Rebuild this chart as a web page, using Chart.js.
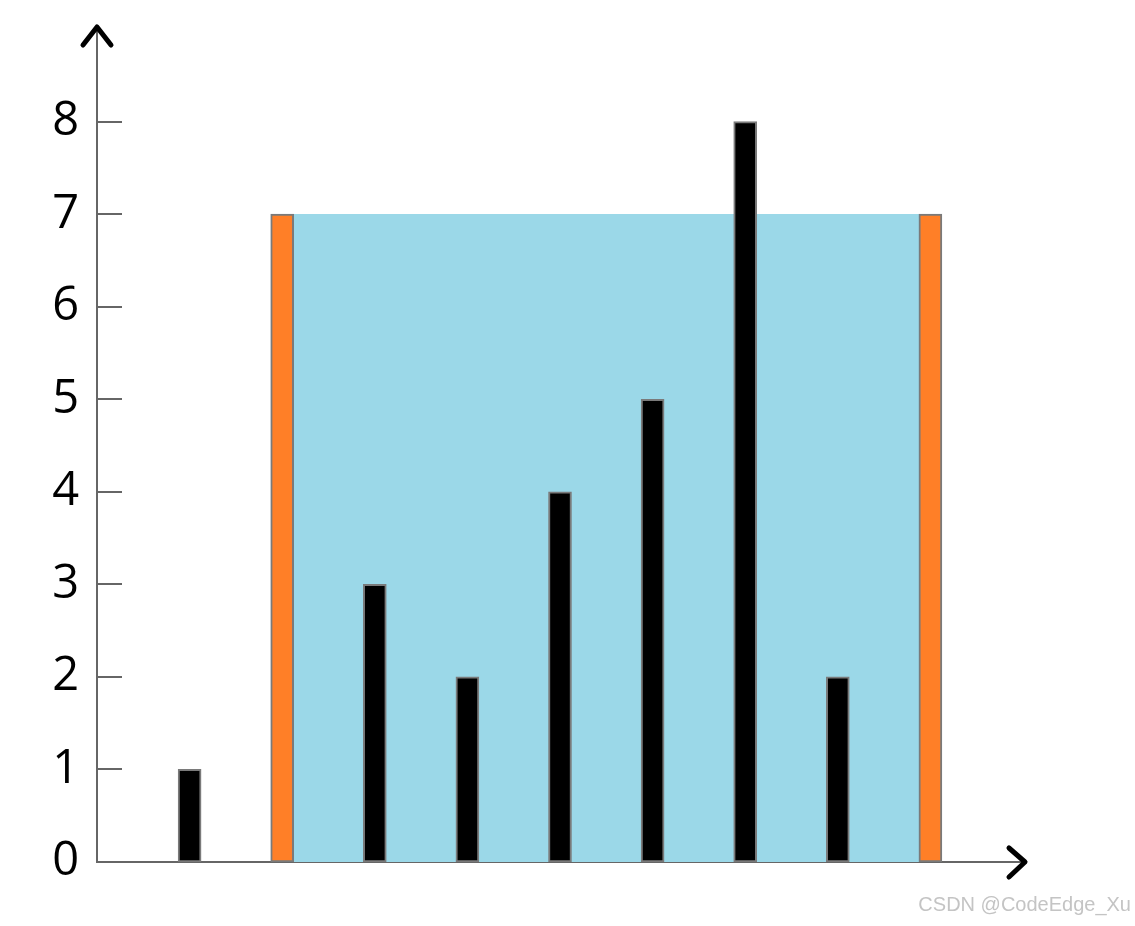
<!DOCTYPE html>
<html>
<head>
<meta charset="utf-8">
<script src="https://cdn.jsdelivr.net/npm/chart.js@4/dist/chart.umd.min.js"></script>
<style>
  html, body { margin: 0; padding: 0; background: #fff; }
  #wrap { position: relative; width: 1135px; height: 926px; }
  #mark { position: absolute; right: 4px; top: 893px; font-family: "Liberation Sans", Arial, sans-serif; font-size: 20px; color: #c4c4c4; }
</style>
</head>
<body>
<div id="wrap">
  <canvas id="c" width="1135" height="926"></canvas>
  <div id="mark">CSDN @CodeEdge_Xu</div>
</div>
<script>
// Data
const positions = [1, 2, 3, 4, 5, 6, 7, 8, 9];
const heights = [1, 7, 3, 2, 4, 5, 8, 2, 7];
const containerEnds = [2, 9];      // x positions of the two walls
const waterLevel = 7;
const yTickValues = [0, 1, 2, 3, 4, 5, 6, 7, 8];

const barColors = positions.map(p => containerEnds.includes(p) ? '#FF7F27' : '#000000');

const decorPlugin = {
  id: 'decor',
  afterDraw(chart) {
    const ctx = chart.ctx;
    const y = chart.scales.y;
    const left = chart.chartArea.left, top = chart.chartArea.top;
    const bottom = chart.chartArea.bottom, right = chart.chartArea.right;
    ctx.save();
    // inner ticks
    ctx.strokeStyle = '#666';
    ctx.lineWidth = 2;
    yTickValues.forEach(v => {
      if (v === 0) return;
      const py = Math.round(y.getPixelForValue(v));
      ctx.beginPath();
      ctx.moveTo(left, py);
      ctx.lineTo(left + 25, py);
      ctx.stroke();
    });
    // arrows
    ctx.strokeStyle = '#000';
    ctx.lineWidth = 5;
    ctx.lineCap = 'round';
    ctx.lineJoin = 'round';
    ctx.beginPath();
    ctx.moveTo(left - 14, top + 16);
    ctx.lineTo(left, top - 2);
    ctx.lineTo(left + 14, top + 16);
    ctx.stroke();
    ctx.beginPath();
    ctx.moveTo(right - 14, bottom - 14);
    ctx.lineTo(right + 2, bottom);
    ctx.lineTo(right - 14, bottom + 15);
    ctx.stroke();
    ctx.restore();
  }
};

new Chart(document.getElementById('c'), {
  data: {
    datasets: [
      {
        type: 'line',
        data: [{x: containerEnds[0], y: waterLevel}, {x: containerEnds[1], y: waterLevel}],
        fill: 'origin',
        backgroundColor: '#9BD8E8',
        borderWidth: 0,
        pointRadius: 0,
        order: 2
      },
      {
        type: 'bar',
        data: positions.map((p, i) => ({x: p, y: heights[i]})),
        backgroundColor: barColors,
        borderColor: '#7a7a7a',
        borderWidth: 2,
        borderSkipped: false,
        barThickness: 23,
        order: 1
      }
    ]
  },
  options: {
    responsive: false,
    animation: false,
    layout: { padding: { left: 0, top: 29, right: 112, bottom: 64 } },
    plugins: { legend: { display: false }, tooltip: { enabled: false } },
    scales: {
      x: {
        type: 'linear',
        offset: false,
        min: 0, max: 10,
        grid: { display: false },
        border: { display: true, color: '#666', width: 2 },
        ticks: { display: false },
        afterFit(s) { s.height = 0; s.paddingLeft = 0; s.paddingRight = 0; }
      },
      y: {
        type: 'linear',
        min: 0, max: 9,
        grid: { display: false, drawTicks: false },
        border: { display: true, color: '#666', width: 2 },
        afterBuildTicks(s) { s.ticks = yTickValues.map(v => ({value: v})); },
        ticks: {
          padding: 18,
          color: '#000',
          font: { family: '"Open Sans", sans-serif', size: 47 }
        },
        afterFit(s) { s.width = 97; s.paddingTop = 0; s.paddingBottom = 0; }
      }
    }
  },
  plugins: [decorPlugin]
});
</script>
</body>
</html>
